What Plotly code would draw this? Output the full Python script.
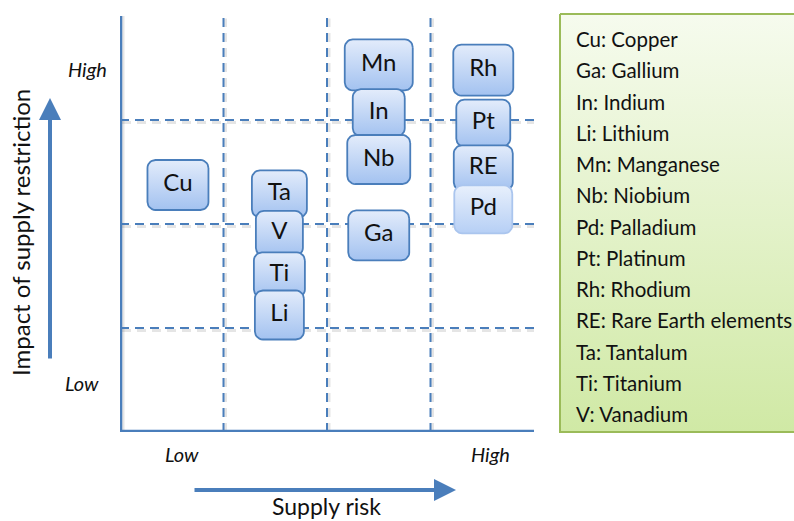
import numpy as np
import plotly.graph_objects as go

# ---------------- data ----------------
symbols = ["Cu", "Ta", "V", "Ti", "Li", "Mn", "In", "Nb", "Ga", "Rh", "Pt", "RE", "Pd"]
supply_risk = [0.56, 1.54, 1.54, 1.54, 1.54, 2.50, 2.50, 2.50, 2.50, 3.51, 3.51, 3.51, 3.51]
impact = [2.375, 2.29, 1.91, 1.51, 1.125, 3.53, 3.07, 2.62, 1.89, 3.48, 2.97, 2.54, 2.14]

legend_symbols = ["Cu", "Ga", "In", "Li", "Mn", "Nb", "Pd", "Pt", "Rh", "RE", "Ta", "Ti", "V"]
legend_names = ["Copper", "Gallium", "Indium", "Lithium", "Manganese", "Niobium", "Palladium",
                "Platinum", "Rhodium", "Rare Earth elements", "Tantalum", "Titanium", "Vanadium"]

grid_breaks = [1, 2, 3]
axis_max = 4
x_title = "Supply risk"
y_title = "Impact of supply restriction"
low_high = ["Low", "High"]

# ---------------- style ----------------
W, H = 794, 521
X0, X1 = 120, 534      # plot area in px
Y0, Y1 = 432, 16
SX = (X1 - X0) / axis_max
SY = (Y0 - Y1) / axis_max
box_w = [61, 55, 47, 51, 49, 68, 52, 63, 61, 60, 54, 59, 58]
box_h = [50, 47, 45, 45, 49, 51, 47, 49, 50, 51, 47, 45, 48]
BLUE = "#4a7ebb"
SHADOW = "rgba(0,0,0,0.10)"
FONT = "Lato"
TXT = "#111111"


def rrect(cx, cy, wpx, hpx, r=8):
    xs, ys = [], []
    hw, hh = wpx / 2, hpx / 2
    corners = [(hw - r, hh - r, 0), (-hw + r, hh - r, 90), (-hw + r, -hh + r, 180), (hw - r, -hh + r, 270)]
    for ox, oy, a0 in corners:
        for a in np.linspace(a0, a0 + 90, 8):
            xs.append(ox + r * np.cos(np.radians(a)))
            ys.append(oy + r * np.sin(np.radians(a)))
    xs.append(xs[0]); ys.append(ys[0])
    return [cx + v / SX for v in xs], [cy + v / SY for v in ys]


fig = go.Figure()

# element boxes
for i, s in enumerate(symbols):
    bx, by = rrect(supply_risk[i], impact[i], box_w[i], box_h[i])
    light = s == "Pd"
    fig.add_trace(go.Scatter(
        x=bx, y=by, mode="lines", fill="toself",
        line=dict(color="#aac5ee" if light else BLUE, width=1.8),
        fillgradient=dict(type="vertical",
                          colorscale=[[0, "#b6cff5" if light else "#a3c2f0"],
                                      [1, "#e8f0fc" if light else "#e3ecfb"]]),
        hoverinfo="skip", showlegend=False, xaxis="x", yaxis="y"))

fig.add_trace(go.Scatter(
    x=supply_risk, y=impact, mode="text", text=symbols,
    textfont=dict(family=FONT, size=24, color=TXT),
    hoverinfo="skip", showlegend=False, xaxis="x", yaxis="y"))

# legend panel (pixel axes)
lx = [560, 800, 800, 560, 560]
ly = [H - 14, H - 14, H - 432, H - 432, H - 14]
fig.add_trace(go.Scatter(
    x=lx, y=ly, mode="lines", fill="toself",
    line=dict(color="#9bbb59", width=2),
    fillgradient=dict(type="vertical", colorscale=[[0, "#d0e9a5"], [1, "#f6fbee"]]),
    hoverinfo="skip", showlegend=False, xaxis="x2", yaxis="y2"))

shapes = []
dx, dy = 2 / SX, 2.5 / SY
# shadows
for g in grid_breaks:
    shapes.append(dict(type="line", xref="x", yref="y", x0=g + dx, x1=g + dx, y0=0, y1=axis_max - dy,
                       line=dict(color=SHADOW, width=3, dash="9px,6px"), layer="below"))
    shapes.append(dict(type="line", xref="x", yref="y", x0=dx, x1=axis_max + dx, y0=g - dy, y1=g - dy,
                       line=dict(color=SHADOW, width=3, dash="9px,6px"), layer="below"))
shapes.append(dict(type="line", xref="x", yref="y", x0=dx, x1=dx, y0=-dy, y1=axis_max,
                   line=dict(color=SHADOW, width=5), layer="below"))
shapes.append(dict(type="line", xref="x", yref="y", x0=dx, x1=axis_max + dx, y0=-dy, y1=-dy,
                   line=dict(color=SHADOW, width=5), layer="below"))
# dashed grid
for g in grid_breaks:
    shapes.append(dict(type="line", xref="x", yref="y", x0=g, x1=g, y0=0, y1=axis_max,
                       line=dict(color=BLUE, width=2, dash="9px,6px"), layer="below"))
    shapes.append(dict(type="line", xref="x", yref="y", x0=0, x1=axis_max, y0=g, y1=g,
                       line=dict(color=BLUE, width=2, dash="9px,6px"), layer="below"))
# main axes
shapes.append(dict(type="line", xref="x", yref="y", x0=0, x1=0, y0=0, y1=axis_max + 0.02,
                   line=dict(color=BLUE, width=4.5), layer="below"))
shapes.append(dict(type="line", xref="x", yref="y", x0=-0.02, x1=axis_max, y0=0, y1=0,
                   line=dict(color=BLUE, width=4.5), layer="below"))

ann = []
# legend texts
for i, (s, n) in enumerate(zip(legend_symbols, legend_names)):
    ann.append(dict(xref="x2", yref="y2", x=574, y=H - (39 + i * 31.25), text=f"{s}: {n}",
                    showarrow=False, xanchor="left", yanchor="middle",
                    font=dict(family=FONT, size=20.5, color=TXT)))
# low/high labels
it = dict(family=FONT, size=20, color=TXT, style="italic")
ann.append(dict(xref="x2", yref="y2", x=109, y=H - 69, text=low_high[1], showarrow=False,
                xanchor="right", font=it))
ann.append(dict(xref="x2", yref="y2", x=101, y=H - 383, text=low_high[0], showarrow=False,
                xanchor="right", font=it))
ann.append(dict(xref="x2", yref="y2", x=182, y=H - 454, text=low_high[0], showarrow=False,
                font=it))
ann.append(dict(xref="x2", yref="y2", x=490, y=H - 454, text=low_high[1], showarrow=False,
                font=it))
# axis titles
ann.append(dict(xref="x2", yref="y2", x=20, y=H - 233, text=y_title, textangle=-90,
                showarrow=False, font=dict(family=FONT, size=24, color=TXT)))
ann.append(dict(xref="x2", yref="y2", x=326, y=H - 506, text=x_title, showarrow=False,
                font=dict(family=FONT, size=23, color=TXT)))
# arrows
ann.append(dict(xref="x2", yref="y2", x=50, y=H - 98, ax=50, ay=H - 360, axref="x2", ayref="y2",
                text="", showarrow=True, arrowhead=2, arrowsize=1.1, arrowwidth=4, arrowcolor=BLUE))
ann.append(dict(xref="x2", yref="y2", x=456, y=H - 490, ax=193, ay=H - 490, axref="x2", ayref="y2",
                text="", showarrow=True, arrowhead=2, arrowsize=1.1, arrowwidth=4, arrowcolor=BLUE))

fig.update_layout(
    width=W, height=H, margin=dict(l=0, r=0, t=0, b=0),
    paper_bgcolor="white", plot_bgcolor="rgba(0,0,0,0)",
    xaxis=dict(domain=[X0 / W, X1 / W], range=[0, axis_max], visible=False, fixedrange=True),
    yaxis=dict(domain=[(H - Y0) / H, (H - Y1) / H], range=[0, axis_max], visible=False, fixedrange=True),
    xaxis2=dict(domain=[0, 1], range=[0, W], visible=False, anchor="y2", fixedrange=True),
    yaxis2=dict(domain=[0, 1], range=[0, H], visible=False, anchor="x2", fixedrange=True),
    shapes=shapes, annotations=ann, showlegend=False,
)

fig.write_html("out.html", config={"displayModeBar": False},
               post_script="document.body.style.margin='0';document.body.style.overflow='hidden';")
